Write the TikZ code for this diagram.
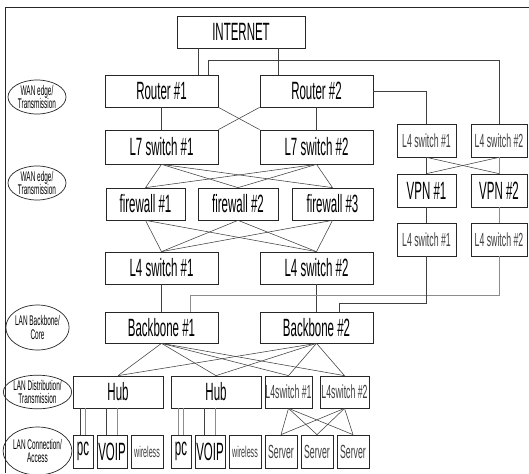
\documentclass[tikz,border=0pt]{standalone}
\usepackage{fontspec}
\setmainfont{Liberation Sans}
\newfontfamily\nar[FakeStretch=0.46]{Liberation Sans}
\usetikzlibrary{shapes.geometric,calc}
\tikzset{
  boxbase/.style={draw=black!85, line width=0.7pt, inner sep=0pt, align=center},
  bigbox/.style={boxbase, font=\nar\fontsize{25}{26}\selectfont},
  smallbox/.style={boxbase, font=\nar\fontsize{19}{20}\selectfont, text=black!75},
  tinybox/.style={boxbase, font=\nar\fontsize{15.5}{16}\selectfont, text=black!75},
  layer/.style={draw=black!85, line width=0.7pt, ellipse, inner sep=0pt, align=center,
     font=\nar\fontsize{14}{13.5}\selectfont},
  conn/.style={draw=black!75, line width=0.55pt},
  lconn/.style={draw=black!45, line width=0.55pt},
  frame/.style={draw=black!85, line width=0.8pt}
}
\newcommand\bx[7]{\node[#1,minimum width={(#5-#3)*1pt},minimum height={(#6-#4)*1pt}] (#2) at ({(#3+#5)/2},{(#4+#6)/2}) {#7};}
\begin{document}
\begin{tikzpicture}[x=1pt,y=-1pt]
\useasboundingbox (0,0) rectangle (529,473);
\clip (0,0) rectangle (529,473);
\fill[white] (0,0) rectangle (529,473);
% frame
\coordinate (ftr) at (529,7);
\coordinate (ftl) at (5,7);
\coordinate (fbl) at (5,473);
\path[frame] (ftr) -- (ftl) -- (fbl);

% layer ellipses
\node[layer, minimum width=58pt, minimum height=34pt] (e1) at (37,97) {WAN edge/\\Transmission};
\node[layer, minimum width=58pt, minimum height=34pt] (e2) at (37,183) {WAN edge/\\Transmission};
\node[layer, minimum width=61pt, minimum height=45pt] (e3) at (37.5,327.5) {LAN Backbone/\\Core};
\node[layer, minimum width=65pt, minimum height=33pt] (e4) at (37.5,392) {LAN Distribution/\\Transmission};
\node[layer, minimum width=65pt, minimum height=48pt] (e5) at (37.5,451) {LAN Connection/\\Access};

% main column
\bx{bigbox}{inet}{177}{16}{305}{48}{INTERNET}
\bx{bigbox}{r1}{105}{75}{218}{107}{Router \#1}
\bx{bigbox}{r2}{260}{75}{373}{107}{Router \#2}
\bx{bigbox}{l71}{105}{130}{218}{164}{L7 switch \#1}
\bx{bigbox}{l72}{260}{130}{373}{164}{L7 switch \#2}
\bx{bigbox}{fw1}{106}{188}{185}{220}{firewall \#1}
\bx{bigbox}{fw2}{198}{188}{278}{220}{firewall \#2}
\bx{bigbox}{fw3}{292}{188}{373}{220}{firewall \#3}
\bx{bigbox}{l41}{105}{252}{218}{284}{L4 switch \#1}
\bx{bigbox}{l42}{260}{252}{373}{284}{L4 switch \#2}
\bx{bigbox}{bb1}{105}{312}{218}{343}{Backbone \#1}
\bx{bigbox}{bb2}{260}{312}{373}{343}{Backbone \#2}
\bx{bigbox}{hub1}{73}{376}{163}{408}{Hub}
\bx{bigbox}{hub2}{171}{376}{261}{408}{Hub}
\bx{smallbox}{ls1}{265}{376}{312}{408}{L4switch \#1}
\bx{smallbox}{ls2}{320}{376}{369}{408}{L4switch \#2}
\bx{bigbox}{pc1}{73}{435}{93}{468}{pc}
\bx{bigbox}{voip1}{97}{435}{127}{468}{VOIP}
\bx{tinybox}{wl1}{131}{435}{163}{468}{wireless}
\bx{bigbox}{pc2}{171}{435}{191}{468}{pc}
\bx{bigbox}{voip2}{195}{435}{225}{468}{VOIP}
\bx{tinybox}{wl2}{229}{435}{261}{468}{wireless}
\bx{smallbox}{sv1}{265}{435}{297}{468}{Server}
\bx{smallbox}{sv2}{301}{435}{333}{468}{Server}
\bx{smallbox}{sv3}{337}{435}{369}{468}{Server}

% right column
\bx{smallbox}{ra1}{397}{124}{456}{157}{L4 switch \#1}
\bx{smallbox}{ra2}{471}{124}{527}{157}{L4 switch \#2}
\bx{bigbox}{vpn1}{397}{174}{456}{207}{VPN \#1}
\bx{bigbox}{vpn2}{471}{174}{527}{207}{VPN \#2}
\bx{smallbox}{rb1}{397}{223}{456}{256}{L4 switch \#1}
\bx{smallbox}{rb2}{471}{223}{527}{256}{L4 switch \#2}

% connectors: top
\path[conn] ([xshift=-43pt]inet.south) -- ([xshift=36.5pt]r1.north);
\path[conn] ([xshift=37pt]inet.south) -- ([xshift=-38.5pt]r2.north);
\path[conn] ([xshift=46.5pt]r1.north) -- ++(0,-14) -| (ra2.north);
\path[conn] (r2.east) -| (ra1.north);
\path[conn] (r1.south) -- (l71.north);
\path[conn] (r2.south) -- (l72.north);
\path[conn] (r1.south east) -- (l72.north west);
\path[conn] (r2.south west) -- (l71.north east);

% L7 -> firewalls -> L4
\foreach \s in {l71,l72}{
  \foreach \t in {fw1,fw2,fw3}{
    \path[conn] (\s.south) -- (\t.north);
  }
}
\foreach \s in {fw1,fw2,fw3}{
  \foreach \t in {l41,l42}{
    \path[conn] (\s.south) -- (\t.north);
  }
}
\path[conn] (l41.south) -- (bb1.north);
\path[conn] (l42.south) -- (bb2.north);

% right column links
\path[conn] (ra1.south) -- (vpn1.north);
\path[lconn] (ra2.south) -- (vpn2.north);
\path[conn] (ra1.south) -- (vpn2.north);
\path[conn] (ra2.south) -- (vpn1.north);
\path[conn] (vpn1.south) -- (rb1.north);
\path[lconn] (vpn2.south) -- (rb2.north);
\path[lconn] (rb2.south) -- ++(0,39) -| ([xshift=28.5pt]bb1.north);
\path[conn] (rb1.south) -- ++(0,47) -| ([xshift=22.5pt]bb2.north);

% backbone -> distribution
\foreach \s in {bb1,bb2}{
  \foreach \t in {hub1,hub2,ls1,ls2}{
    \path[conn] (\s.south) -- (\t.north);
  }
}
\foreach \s in {ls1,ls2}{
  \foreach \t in {sv1,sv2,sv3}{
    \path[conn] (\s.south) -- (\t.north);
  }
}

% hubs -> devices (double links)
\path[conn] ([xshift=-3pt]pc1.north) -- ([xshift=-3pt]pc1.north |- hub1.south);
\path[lconn] ([xshift=2pt]pc1.north) -- ([xshift=2pt]pc1.north |- hub1.south);
\path[conn] ([xshift=-6pt]voip1.north) -- ([xshift=-6pt]voip1.north |- hub1.south);
\path[lconn] ([xshift=5pt]voip1.north) -- ([xshift=5pt]voip1.north |- hub1.south);
\path[lconn] ([xshift=-3pt]pc2.north) -- ([xshift=-3pt]pc2.north |- hub2.south);
\path[lconn] ([xshift=2pt]pc2.north) -- ([xshift=2pt]pc2.north |- hub2.south);
\path[conn] ([xshift=-6pt]voip2.north) -- ([xshift=-6pt]voip2.north |- hub2.south);
\path[lconn] ([xshift=5pt]voip2.north) -- ([xshift=5pt]voip2.north |- hub2.south);
\end{tikzpicture}
\end{document}
